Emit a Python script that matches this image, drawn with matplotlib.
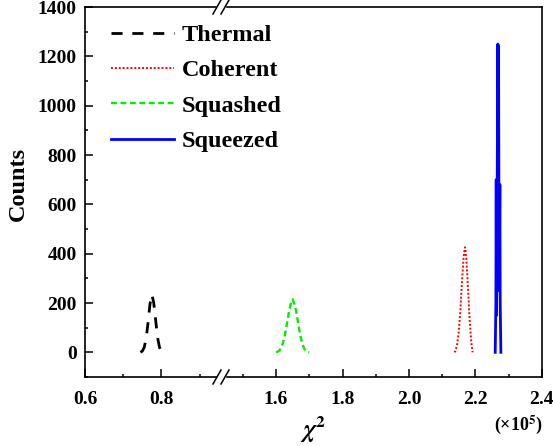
import matplotlib.pyplot as plt
import matplotlib.lines as mlines
import matplotlib.patches as mpatches

plt.rcParams["font.family"] = "Liberation Serif"
plt.rcParams["font.weight"] = "bold"
plt.rcParams["mathtext.fontset"] = "stix"

# chi-square distributions (x in units of 1e5)
thermal_x = [0.745, 0.750, 0.755, 0.760, 0.765, 0.770, 0.775, 0.780, 0.785, 0.790, 0.795, 0.800, 0.805]
thermal_n = [0, 5, 20, 55, 120, 195, 235, 200, 130, 60, 20, 5, 0]

coherent_x = [2.137, 2.140, 2.145, 2.150, 2.155, 2.160, 2.165, 2.169, 2.173, 2.178, 2.183, 2.188, 2.192]
coherent_n = [0, 5, 30, 80, 170, 290, 390, 426, 380, 260, 130, 40, 0]

squashed_x = [1.600, 1.605, 1.610, 1.615, 1.620, 1.625, 1.630, 1.635, 1.640, 1.645, 1.650,
              1.655, 1.660, 1.665, 1.670, 1.675, 1.680, 1.685, 1.690, 1.695, 1.700]
squashed_n = [0, 3, 8, 18, 35, 60, 95, 135, 175, 200, 215, 195, 170, 130, 90, 55, 30, 15, 6, 2, 0]

squeezed_x = [2.260, 2.262, 2.263, 2.264, 2.266, 2.267, 2.268, 2.269, 2.270, 2.271, 2.272, 2.274, 2.275, 2.277]
squeezed_n = [0, 200, 700, 150, 700, 1000, 1250, 400, 1240, 700, 250, 680, 200, 0]

labels = ["Thermal", "Coherent", "Squashed", "Squeezed"]

W, H = 553, 446
fig = plt.figure(figsize=(W / 100, H / 100), dpi=100)

x0, xb, x1 = 85, 221, 541.7
y0, y1 = 377, 7
axL = fig.add_axes([x0 / W, 1 - y0 / H, (xb - x0) / W, (y0 - y1) / H])
axR = fig.add_axes([xb / W, 1 - y0 / H, (x1 - xb) / W, (y0 - y1) / H])

styles = [
    dict(color="black", lw=2.0, dashes=(4, 3.5)),
    dict(color="red", lw=1.4, dashes=(1, 1)),
    dict(color="#00ee00", lw=1.7, dashes=(2.5, 1.5)),
    dict(color="blue", lw=2.0),
]

axL.plot(thermal_x, thermal_n, **styles[0])
axR.plot(coherent_x, coherent_n, **styles[1])
axR.plot(squashed_x, squashed_n, **styles[2])
axR.plot(squeezed_x, squeezed_n, **styles[3])

axL.set_xlim(0.6, 0.956)
axR.set_xlim(1.434, 2.4)
for ax in (axL, axR):
    ax.set_ylim(-100, 1400)
    for s in ax.spines.values():
        s.set_linewidth(1.2)
    ax.tick_params(direction="in", which="both", labelsize=14, width=1.1)
    ax.tick_params(which="major", length=5.5)
    ax.tick_params(which="minor", length=2.5)

axL.spines["right"].set_visible(False)
axR.spines["left"].set_visible(False)

axL.set_xticks([0.6, 0.8])
axL.set_xticks([0.7, 0.9], minor=True)
axL.set_xticklabels(["0.6", "0.8"])
axL.set_yticks(range(0, 1401, 200))
axL.set_yticks(range(-100, 1401, 100), minor=True)

axR.set_xticks([1.6, 1.8, 2.0, 2.2, 2.4])
axR.set_xticks([1.5, 1.7, 1.9, 2.1, 2.3], minor=True)
axR.set_xticklabels(["1.6", "1.8", "2.0", "2.2", "2.4"])
axR.set_yticks([])
axR.tick_params(axis="y", which="both", left=False, right=False)
axL.tick_params(axis="x", pad=10)
axR.tick_params(axis="x", pad=10)
axL.tick_params(axis="y", pad=6)

# break marks on top and bottom spines
for yy in (y0, y1):
    fy = 1 - yy / H
    fig.patches.append(mpatches.Rectangle(((xb - 4) / W, fy - 2 / H), 8 / W, 4 / H,
                                          transform=fig.transFigure, color="white", zorder=5))
    for dx in (-4, 4):
        fig.lines.append(mlines.Line2D([(xb + dx - 4) / W, (xb + dx + 4) / W],
                                       [fy - 7 / H, fy + 7 / H],
                                       transform=fig.transFigure, color="black", lw=1.1, zorder=6))

fig.text(18 / W, 1 - 184 / H, "Counts", rotation=90, ha="center", va="center", fontsize=17.5)
fig.text(313 / W, 1 - 430 / H, r"$\chi^2$", ha="center", va="center", fontsize=18)
fig.text(518 / W, 1 - 425 / H, r"(×10$^{\mathbf{5}}$)", ha="center", va="center", fontsize=13)

handles = [mlines.Line2D([], [], **st) for st in styles]
fig.legend(handles, labels, loc="upper left", bbox_to_anchor=(111 / W, 1 - 24 / H),
           frameon=False, fontsize=17.5, handlelength=2.6, handletextpad=0.3,
           labelspacing=0.55, borderpad=0, borderaxespad=0)

fig.savefig("out.png", dpi=100)
